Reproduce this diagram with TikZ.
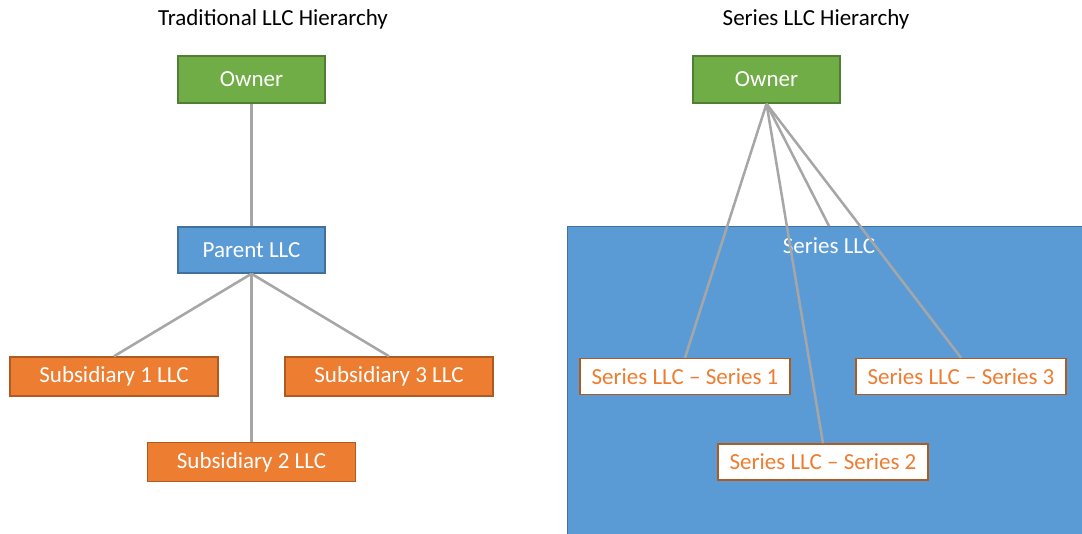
\documentclass[tikz,border=0pt]{standalone}
\usepackage{fontspec}
\setmainfont{Carlito}
\definecolor{grn}{HTML}{70AD47}
\definecolor{grnD}{HTML}{507E32}
\definecolor{blu}{HTML}{5B9BD5}
\definecolor{bluD}{HTML}{41719C}
\definecolor{org}{HTML}{ED7D31}
\definecolor{orgD}{HTML}{AE5A21}
\definecolor{lnk}{HTML}{A6A6A6}
\begin{document}
\begin{tikzpicture}[x=1pt,y=-1pt,
  box/.style={draw, line width=1.5pt, minimum height=45pt, inner sep=0pt,
    font=\fontsize{23}{26}\selectfont, text=white},
  ownerbox/.style={box, fill=grn, draw=grnD, minimum width=147pt, minimum height=47pt},
  parentbox/.style={box, fill=blu, draw=bluD, minimum width=147pt, minimum height=46pt},
  subbox/.style={box, fill=org, draw=orgD, minimum width=208pt, minimum height=39pt},
  seriesbox/.style={box, fill=white, draw=orgD, text=org, minimum width=210pt, minimum height=36pt},
  title/.style={font=\fontsize{23}{26}\selectfont, text=black},
  link/.style={draw=lnk, line width=2.5pt}]
\useasboundingbox (0,0) rectangle (1082,533);
\fill[white] (0,0) rectangle (1082,533);

% traditional hierarchy
\node[title] (t1) at (273,19) {Traditional LLC Hierarchy};
\node[ownerbox] (o1) at (251.5,79.5) {Owner};
\node[parentbox] (p1) at (251.5,250) {Parent LLC};
\node[subbox] (s1) at (114,376.5) {Subsidiary 1 LLC};
\node[subbox] (s3) at (389,376.5) {Subsidiary 3 LLC};
\node[subbox] (s2) at (251.5,462) {Subsidiary 2 LLC};
\draw[link] (o1.south) -- (p1.north);
\draw[link] (p1.south) -- (s1.north);
\draw[link] (p1.south) -- (s2.north);
\draw[link] (p1.south) -- (s3.north);

% series hierarchy
\node[title] (t2) at (816,19) {Series LLC Hierarchy};
\node[draw=bluD, fill=blu, line width=1pt, anchor=north west, minimum width=520pt,
  minimum height=310pt, inner sep=0pt] (big) at (567,226) {};
\node[font=\fontsize{23}{26}\selectfont, text=white] (bl) at (829,246) {Series LLC};
\node[ownerbox] (o2) at (766.5,79.5) {Owner};
\node[seriesbox] (r1) at (685,376.5) {Series LLC -- Series 1};
\node[seriesbox] (r2) at (823,462) {Series LLC -- Series 2};
\node[seriesbox] (r3) at (961,376.5) {Series LLC -- Series 3};
\coordinate (bt) at (829,226);
\draw[link] (o2.south) -- (r1.north);
\draw[link] (o2.south) -- (r2.north);
\draw[link] (o2.south) -- (bt);
\draw[link] (o2.south) -- (r3.north);
\end{tikzpicture}
\end{document}
